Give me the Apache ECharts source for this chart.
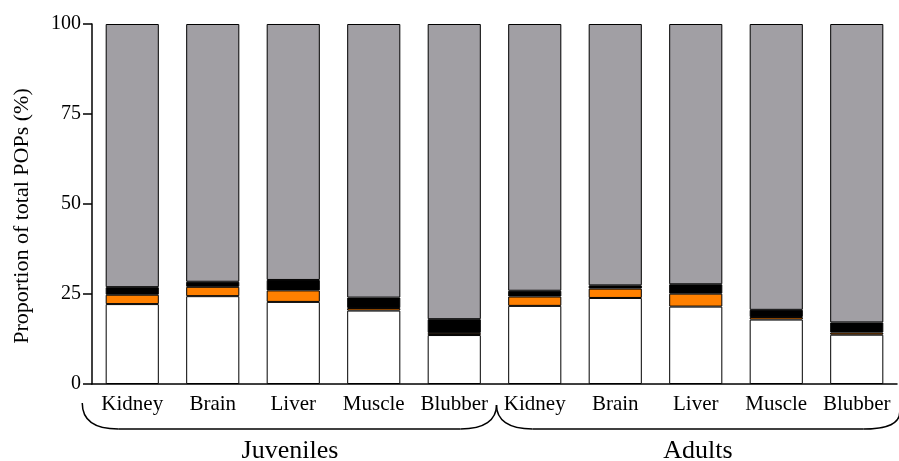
<!DOCTYPE html>
<html>
<head>
<meta charset="utf-8">
<script src="https://cdn.jsdelivr.net/npm/echarts@6/dist/echarts.min.js"></script>
<style>
  html, body { margin: 0; padding: 0; background: #fff; }
  #chart { width: 899px; height: 461px; }
</style>
</head>
<body>
<div id="chart"></div>
<script>
// tissues, juveniles first then adults
var categories = ['Kidney', 'Brain', 'Liver', 'Muscle', 'Blubber',
                  'Kidney', 'Brain', 'Liver', 'Muscle', 'Blubber'];
var groups = ['Juveniles', 'Adults'];

// stacked shares (%), bottom to top
var whitePart  = [22.2, 24.4, 22.8, 20.4, 13.6, 21.7, 23.9, 21.5, 17.9, 13.7];
var orangePart = [2.6, 2.6, 3.2, 0.7, 0.6, 2.6, 2.6, 3.6, 0.7, 0.6];
var blackPart  = [2.1, 1.4, 2.9, 2.9, 3.8, 1.6, 0.9, 2.6, 2.0, 2.8];
var grayPart   = [73.1, 71.6, 71.1, 76.0, 82.0, 74.1, 72.6, 72.3, 79.4, 82.9];

var yTicks = [0, 25, 50, 75, 100];

var font = 'Liberation Serif, Times New Roman, serif';

function seg(name, data, color) {
    return {
        name: name,
        type: 'bar',
        stack: 'all',
        data: data,
        barCategoryGap: '34%',
        itemStyle: { color: color, borderColor: '#000', borderWidth: 1 },
        animation: false
    };
}

var chart = echarts.init(document.getElementById('chart'));
var option = {
    animation: false,
    grid: { left: 92, right: 2, top: 24, bottom: 77, outerBoundsMode: 'none', containLabel: false },
    xAxis: {
        type: 'category',
        data: categories,
        axisLine: { lineStyle: { color: '#000', width: 1.5 } },
        axisTick: { alignWithLabel: true, length: 8, lineStyle: { color: '#000', width: 1.5 } },
        axisLabel: { color: '#000', fontFamily: font, fontSize: 21, margin: 10, interval: 0 }
    },
    yAxis: {
        type: 'value',
        min: yTicks[0],
        max: yTicks[yTicks.length - 1],
        interval: 25,
        name: 'Proportion of total POPs (%)',
        nameLocation: 'middle',
        nameGap: 59,
        nameTextStyle: { color: '#000', fontFamily: font, fontSize: 22, padding: [0, 24, 0, 0] },
        splitLine: { show: false },
        axisLine: { show: true, lineStyle: { color: '#000', width: 1.5 } },
        axisTick: { show: true, length: 9, lineStyle: { color: '#000', width: 1.5 } },
        axisLabel: { color: '#000', fontFamily: font, fontSize: 20, margin: 11 }
    },
    series: [
        seg('white', whitePart, '#ffffff'),
        seg('orange', orangePart, '#ff8000'),
        seg('black', blackPart, '#000000'),
        seg('gray', grayPart, '#a19fa4')
    ]
};
chart.setOption(option);

// curly braces + group names under the tissue labels
var x0 = chart.convertToPixel({ xAxisIndex: 0 }, 0) - 50;
var xm = (chart.convertToPixel({ xAxisIndex: 0 }, 4) + chart.convertToPixel({ xAxisIndex: 0 }, 5)) / 2 + 2;
var x1 = chart.convertToPixel({ xAxisIndex: 0 }, 9) + 43;
var yb = 429;
var lineStyle = { fill: null, stroke: '#000', lineWidth: 1.5 };

function curve(ax, ay, bx, by, c1x, c1y, c2x, c2y) {
    return { type: 'bezierCurve', shape: { x1: ax, y1: ay, x2: bx, y2: by, cpx1: c1x, cpy1: c1y, cpx2: c2x, cpy2: c2y }, style: lineStyle };
}
function hline(ax, bx, y) {
    return { type: 'line', shape: { x1: ax, y1: y, x2: bx, y2: y }, style: lineStyle };
}

chart.setOption({
    graphic: [
        curve(x0, 403, x0 + 36, yb, x0, 420, x0 + 12, yb),
        hline(x0 + 36, xm - 36, yb),
        curve(xm - 36, yb, xm, 405, xm - 12, yb, xm, 420),
        curve(xm, 405, xm + 36, yb, xm, 420, xm + 12, yb),
        hline(xm + 36, x1 - 36, yb),
        curve(x1 - 36, yb, x1, 412, x1 - 12, yb, x1, 424),
        { type: 'text', x: 290, y: 451, style: { text: groups[0], fill: '#000', font: '26px ' + font, align: 'center', verticalAlign: 'middle' } },
        { type: 'text', x: 698, y: 451, style: { text: groups[1], fill: '#000', font: '26px ' + font, align: 'center', verticalAlign: 'middle' } }
    ]
});
</script>
</body>
</html>
